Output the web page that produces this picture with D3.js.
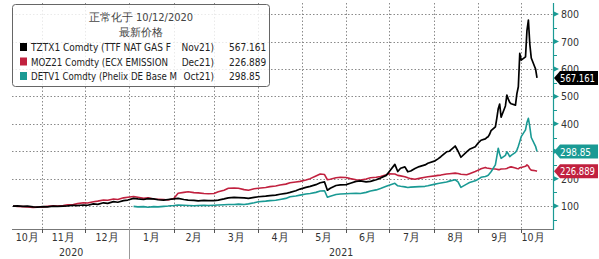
<!DOCTYPE html>
<html>
<head>
<meta charset="utf-8">
<script src="https://cdn.jsdelivr.net/npm/d3@7"></script>
<style>
  body { margin: 0; background: #fff; }
  svg text { font-family: "DejaVu Sans Condensed", "DejaVu Sans", sans-serif; }
</style>
</head>
<body>
<div id="chart"></div>
<script>
var width = 599, height = 259;

var dates = [
  "2020-10-12","2020-10-15","2020-10-19","2020-10-22","2020-10-26","2020-10-29",
  "2020-11-02","2020-11-05","2020-11-09","2020-11-12","2020-11-16","2020-11-19","2020-11-23","2020-11-26","2020-11-30",
  "2020-12-03","2020-12-07","2020-12-10","2020-12-14","2020-12-17","2020-12-21","2020-12-24","2020-12-28","2020-12-31",
  "2021-01-04","2021-01-07","2021-01-11","2021-01-14","2021-01-18","2021-01-21","2021-01-25","2021-01-28",
  "2021-02-01","2021-02-04","2021-02-08","2021-02-11","2021-02-15","2021-02-18","2021-02-22","2021-02-25",
  "2021-03-01","2021-03-04","2021-03-08","2021-03-11","2021-03-15","2021-03-18","2021-03-22","2021-03-25","2021-03-29",
  "2021-04-01","2021-04-06","2021-04-09","2021-04-13","2021-04-16","2021-04-20","2021-04-23","2021-04-27","2021-04-30",
  "2021-05-04","2021-05-07","2021-05-11","2021-05-14","2021-05-17","2021-05-19","2021-05-21","2021-05-25","2021-05-28",
  "2021-06-01","2021-06-04","2021-06-08","2021-06-11","2021-06-15","2021-06-18","2021-06-22","2021-06-25","2021-06-29",
  "2021-07-01","2021-07-05","2021-07-07","2021-07-09","2021-07-12","2021-07-14","2021-07-16","2021-07-19","2021-07-22","2021-07-26","2021-07-28",
  "2021-08-02","2021-08-04","2021-08-06","2021-08-10","2021-08-12","2021-08-16","2021-08-18","2021-08-20","2021-08-24","2021-08-26","2021-08-30",
  "2021-09-01","2021-09-02","2021-09-03","2021-09-06","2021-09-07","2021-09-08","2021-09-09","2021-09-10",
  "2021-09-13","2021-09-14","2021-09-15","2021-09-16","2021-09-17","2021-09-20","2021-09-21","2021-09-22","2021-09-23","2021-09-24",
  "2021-09-27","2021-09-28","2021-09-29","2021-09-30","2021-10-01","2021-10-04","2021-10-05","2021-10-06","2021-10-07","2021-10-08",
  "2021-10-11","2021-10-12"
];

// TZTX1 Comdty (TTF NAT GAS)
var gas = [
  100,101,99,100,97,96,
  98,97,100,99,100,101,103,102,104,
  103,108,106,112,110,116,114,120,122,
  128,126,124,127,126,123,122,124,
  126,128,124,122,121,119,121,120,
  120,122,126,130,132,131,130,128,132,
  134,136,138,140,143,146,150,156,162,
  168,172,178,185,188,158,165,175,177,
  178,183,190,192,188,190,196,202,212,
  225,252,226,238,243,225,228,237,244,250,256,
  265,272,280,298,300,319,300,278,298,307,316,
  330,335,340,345,350,353,362,375,
  389,420,455,472,424,465,505,490,478,473,
  468,510,535,657,632,644,740,778,690,640,
  600,567.161
];

// MOZ21 Comdty (ECX EMISSION)
var carbon = [
  100,99,98,97,95,96,
  97,99,101,100,102,105,106,109,112,
  111,116,118,122,121,126,124,130,132,
  135,132,128,130,126,125,124,122,
  128,147,150,152,149,148,146,145,
  146,152,158,165,166,165,160,158,163,
  165,168,171,173,177,180,185,188,190,
  195,200,210,217,215,196,198,203,205,
  204,200,196,195,199,203,205,208,214,
  218,217,212,210,207,203,200,198,201,205,207,
  210,212,213,217,218,220,219,216,214,218,226,
  231,233,236,241,239,238,237,236,
  235,234,233,233,235,236,237,240,242,243,
  239,237,236,240,241,245,250,246,236,231,
  229,226.889
];

// DETV1 Comdty (Phelix DE Base)
var power = [
  null,null,null,null,null,null,
  null,null,null,null,null,null,null,null,null,
  null,null,null,null,null,null,null,null,null,
  99,97,98,96,98,97,99,100,
  102,104,103,102,101,102,103,102,
  103,104,105,106,106,107,106,108,112,
  116,118,120,121,124,128,134,137,140,
  144,146,150,155,156,132,136,142,144,
  145,146,147,146,150,155,159,164,172,
  176,183,174,172,170,168,169,170,171,172,174,
  180,182,184,188,191,196,188,168,180,186,192,
  198,201,205,208,210,212,219,225,
  250,280,311,290,274,285,298,290,280,285,
  296,304,318,335,353,378,405,420,389,350,
  318,298.85
];

var seriesNames = ["TZTX1 Comdty (TTF NAT GAS F", "MOZ21 Comdty (ECX EMISSION", "DETV1 Comdty (Phelix DE Base M"];
var seriesMonths = ["Nov21)", "Dec21)", "Oct21)"];
var lastLabels = ["567.161", "226.889", "298.85"];
var colors = ["#000000", "#c1213f", "#1a9a94"];
var yTicks = [100, 200, 300, 400, 500, 600, 700, 800];
var monthLabels = ["10月","11月","12月","1月","2月","3月","4月","5月","6月","7月","8月","9月","10月"];
var years = ["2020", "2021"];

var parse = d3.timeParse("%Y-%m-%d");
var t = dates.map(parse);

var axisY = 229, axisRight = 553, plotLeft = 12, plotTop = 3;

var x = d3.scaleTime()
  .domain([parse("2020-10-12"), parse("2021-10-12")])
  .range([13, 537]);
var y = d3.scaleLinear().domain([0, 800]).range([233.5, 14.1]);

var svg = d3.select("#chart").append("svg")
  .attr("width", width).attr("height", height);

// grid
var months = d3.timeMonth.range(parse("2020-11-01"), parse("2021-10-02"));
svg.selectAll(".vgrid").data(months).enter().append("line")
  .attr("x1", function(d) { return Math.round(x(d)) + 0.5; })
  .attr("x2", function(d) { return Math.round(x(d)) + 0.5; })
  .attr("y1", plotTop).attr("y2", axisY)
  .style("stroke", "#8a8a8a").style("stroke-dasharray", "1.5,2");

svg.selectAll(".hgrid").data(yTicks).enter().append("line")
  .attr("x1", plotLeft).attr("x2", axisRight)
  .attr("y1", function(d) { return Math.round(y(d)) + 0.5; })
  .attr("y2", function(d) { return Math.round(y(d)) + 0.5; })
  .style("stroke", "#8a8a8a").style("stroke-dasharray", "1.5,2");

// lines
var allSeries = [gas, carbon, power];
var line = d3.line()
  .defined(function(d) { return d[1] != null; })
  .x(function(d) { return x(d[0]); })
  .y(function(d) { return y(d[1]); });

[1, 2, 0].forEach(function(i) {
  var pts = t.map(function(d, j) { return [d, allSeries[i][j]]; });
  svg.append("path").datum(pts)
    .attr("d", line)
    .style("fill", "none")
    .style("stroke", colors[i])
    .style("stroke-width", i == 0 ? 1.7 : 1.6)
    .style("stroke-linejoin", "round");
});

// x axis
svg.append("line")
  .attr("x1", plotLeft).attr("x2", axisRight)
  .attr("y1", axisY + 0.5).attr("y2", axisY + 0.5)
  .style("stroke", "#777");

svg.selectAll(".xtick").data(months).enter().append("line")
  .attr("x1", function(d) { return Math.round(x(d)) + 0.5; })
  .attr("x2", function(d) { return Math.round(x(d)) + 0.5; })
  .attr("y1", axisY).attr("y2", axisY + 4)
  .style("stroke", "#555");

var monthStarts = [parse("2020-10-12")].concat(months);
svg.selectAll(".mlabel").data(monthStarts).enter().append("text")
  .attr("x", function(d, i) {
    var a = x(d);
    var b = i < monthStarts.length - 1 ? x(monthStarts[i + 1]) : 545;
    return (a + b) / 2;
  })
  .attr("y", 241)
  .attr("text-anchor", "middle")
  .style("font-size", "10.5px")
  .style("fill", "#333")
  .text(function(d, i) { return monthLabels[i]; });

var jan = parse("2021-01-01");
svg.append("line")
  .attr("x1", Math.round(x(jan)) + 0.5).attr("x2", Math.round(x(jan)) + 0.5)
  .attr("y1", axisY).attr("y2", height)
  .style("stroke", "#999");

svg.selectAll(".year").data(years).enter().append("text")
  .attr("x", function(d, i) { return i == 0 ? (13 + x(jan)) / 2 : (x(jan) + axisRight) / 2; })
  .attr("y", 256)
  .attr("text-anchor", "middle")
  .style("font-size", "10.5px")
  .style("fill", "#333")
  .text(function(d) { return d; });

// y axis
var teal = "#1a9a94";
svg.append("line")
  .attr("x1", axisRight + 0.5).attr("x2", axisRight + 0.5)
  .attr("y1", plotTop).attr("y2", axisY + 1)
  .style("stroke", teal).style("stroke-width", 1.2);

var minor = d3.range(50, 800, 100);
svg.selectAll(".minor").data(minor).enter().append("line")
  .attr("x1", axisRight).attr("x2", axisRight + 4)
  .attr("y1", function(d) { return Math.round(y(d)) + 0.5; })
  .attr("y2", function(d) { return Math.round(y(d)) + 0.5; })
  .style("stroke", teal);

svg.selectAll(".major").data(yTicks).enter().append("path")
  .attr("d", function(d) {
    var yy = y(d);
    return "M" + axisRight + "," + (yy - 3) + "L" + (axisRight + 6) + "," + yy + "L" + axisRight + "," + (yy + 3) + "Z";
  })
  .style("fill", teal);

svg.selectAll(".ylabel").data(yTicks).enter().append("text")
  .attr("x", 561)
  .attr("y", function(d) { return y(d) + 4; })
  .style("font-size", "10.5px")
  .style("fill", "#333")
  .text(function(d) { return d; });

// last value tags
var lastValues = allSeries.map(function(s) { return s[s.length - 1]; });
[0, 2, 1].forEach(function(i) {
  var yy = y(lastValues[i]);
  var g = svg.append("g");
  g.append("path")
    .attr("d", "M" + (axisRight + 1) + "," + yy + "L" + (axisRight + 7) + "," + (yy - 7) +
      "L598," + (yy - 7) + "L598," + (yy + 7) + "L" + (axisRight + 7) + "," + (yy + 7) + "Z")
    .style("fill", colors[i]);
  g.append("text")
    .attr("x", 560)
    .attr("y", yy + 4)
    .attr("textLength", lastLabels[i].length > 6 ? 35 : 31)
    .attr("lengthAdjust", "spacingAndGlyphs")
    .style("font-size", "10.5px")
    .style("fill", "#fff")
    .text(lastLabels[i]);
});

// legend
var nameWidths = [140, 137, 146];
var legend = svg.append("g");
legend.append("rect")
  .attr("x", 12.5).attr("y", 4.5).attr("width", 257).attr("height", 82)
  .attr("rx", 3)
  .style("fill", "#fff").style("fill-opacity", 0.82)
  .style("stroke", "#666");

legend.append("text")
  .attr("x", 141).attr("y", 21)
  .attr("text-anchor", "middle")
  .style("font-size", "11px").style("fill", "#444")
  .text("正常化于 10/12/2020");
legend.append("text")
  .attr("x", 141).attr("y", 36)
  .attr("text-anchor", "middle")
  .style("font-size", "11px").style("fill", "#444")
  .text("最新价格");

seriesNames.forEach(function(name, i) {
  var cy = 47 + i * 14.5;
  legend.append("rect")
    .attr("x", 20).attr("y", cy - 4).attr("width", 7).attr("height", 8)
    .style("fill", colors[i]);
  legend.append("text")
    .attr("x", 31).attr("y", cy + 4)
    .attr("textLength", nameWidths[i])
    .attr("lengthAdjust", "spacingAndGlyphs")
    .style("font-size", "10.5px").style("fill", "#222")
    .text(name);
  legend.append("text")
    .attr("x", 214).attr("y", cy + 4)
    .attr("text-anchor", "end")
    .style("font-size", "10px").style("fill", "#222")
    .text(seriesMonths[i]);
  legend.append("text")
    .attr("x", 229).attr("y", cy + 4)
    .style("font-size", "10px").style("fill", "#222")
    .text(lastLabels[i]);
});
</script>
</body>
</html>
